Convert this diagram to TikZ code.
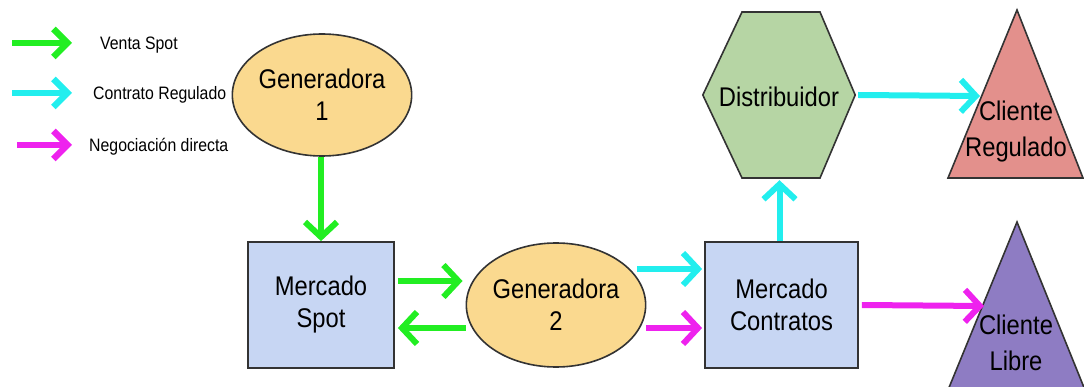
\documentclass[tikz,border=0pt]{standalone}
\usepackage{fontspec}
\setmainfont{Liberation Sans}
\newfontfamily\condfont[FakeStretch=0.88]{Liberation Sans}
\usetikzlibrary{arrows.meta,calc,shapes.geometric}
\definecolor{cgreen}{HTML}{22EE22}
\definecolor{ccyan}{HTML}{22EEEE}
\definecolor{cmag}{HTML}{EE22EE}
\definecolor{ellfill}{HTML}{FAD98F}
\definecolor{recfill}{HTML}{C7D6F3}
\definecolor{hexfill}{HTML}{B6D5A4}
\definecolor{redfill}{HTML}{E3908C}
\definecolor{purfill}{HTML}{8E7CC3}
\definecolor{bord}{HTML}{333333}
\tikzset{
  flow/.style={line width=6pt,-{Straight Barb[length=15pt,width=32pt,line width=6pt]}},
  legflow/.style={line width=6.5pt,-{Straight Barb[length=14pt,width=28pt,line width=6.5pt]}},
  big/.style={font=\condfont\fontsize{27}{32}\selectfont, align=center},
  tri/.style={font=\condfont\fontsize{27}{36}\selectfont, align=center},
  legtxt/.style={font=\condfont\fontsize{18}{20}\selectfont, anchor=west, inner sep=0pt},
  ell/.style={ellipse, draw=bord, line width=1.6pt, fill=ellfill, big},
  box/.style={rectangle, draw=bord, line width=1.8pt, fill=recfill, big},
  shp/.style={draw=bord, line width=1.6pt},
}
\begin{document}
\begin{tikzpicture}[x=1pt,y=-1pt]
\useasboundingbox (0,0) rectangle (1084,387);
% legend
\coordinate (l1a) at (12,43); \coordinate (l1b) at (72,43);
\coordinate (l2a) at (12,93); \coordinate (l2b) at (72,93);
\coordinate (l3a) at (17,145); \coordinate (l3b) at (72,145);
\draw[legflow,cgreen] (l1a) -- (l1b);
\draw[legflow,ccyan] (l2a) -- (l2b);
\draw[legflow,cmag] (l3a) -- (l3b);
\node[legtxt] (t1) at (100,45) {Venta Spot};
\node[legtxt] (t2) at (93,95) {Contrato Regulado};
\node[legtxt] (t3) at (89,147) {Negociación directa};
% nodes
\node[ell, minimum width=158, minimum height=122, inner sep=0pt] (g1) at (322,95) {Generadora\\1};
\node[box, minimum width=146, minimum height=126, inner sep=0pt] (spot) at (321,305) {Mercado\\Spot};
\node[ell, minimum width=166, minimum height=124, inner sep=0pt] (g2) at (556,305) {Generadora\\2};
\node[box, minimum width=153, minimum height=126, inner sep=0pt] (cont) at (781.5,305) {Mercado\\Contratos};
% hexagon
\node[minimum width=152, minimum height=166, inner sep=0pt] (dist) at (779,95) {};
\draw[shp, fill=hexfill] (dist.west) -- (742,12) -- (820,12) -- (dist.east) -- (820,178) -- (742,178) -- cycle;
\node[big] (distt) at (779,97) {Distribuidor};
% triangles
\draw[shp, fill=redfill] (948,178) -- (1017,10) -- (1083,178) -- cycle;
\node[tri, inner sep=0pt] (creg) at (1016,132) {Cliente\\Regulado};
\draw[shp, fill=purfill] (948,390) -- (1017,222) -- (1085,390) -- cycle;
\node[tri, inner sep=0pt] (clib) at (1016,343) {Cliente\\Libre};
\coordinate (cregin) at (980,96);
\coordinate (clibin) at (984,306);
% connectors
\draw[flow,cgreen] (g1.south -| spot.north) -- (spot.north);
\draw[flow,cgreen] ([yshift=24pt,xshift=3pt]spot.east) -- ([yshift=24pt,xshift=-3pt]g2.west);
\draw[flow,cgreen] ([yshift=-23pt]g2.west) -- ([yshift=-23pt,xshift=3pt]spot.east);
\draw[flow,ccyan] ([yshift=36pt,xshift=-9pt]g2.east) -- ([yshift=36pt,xshift=-2pt]cont.west);
\draw[flow,cmag] ([yshift=-23pt]g2.east) -- ([yshift=-23pt,xshift=-2pt]cont.west);
\draw[flow,ccyan] ([xshift=-2pt]cont.north) -- ([xshift=-2pt,yshift=-2pt]cont.north |- dist.south);
\draw[flow,ccyan] ([xshift=3pt]dist.east) -- (cregin);
\draw[flow,cmag] ([xshift=3pt]cont.east) -- (clibin);
\end{tikzpicture}
\end{document}
